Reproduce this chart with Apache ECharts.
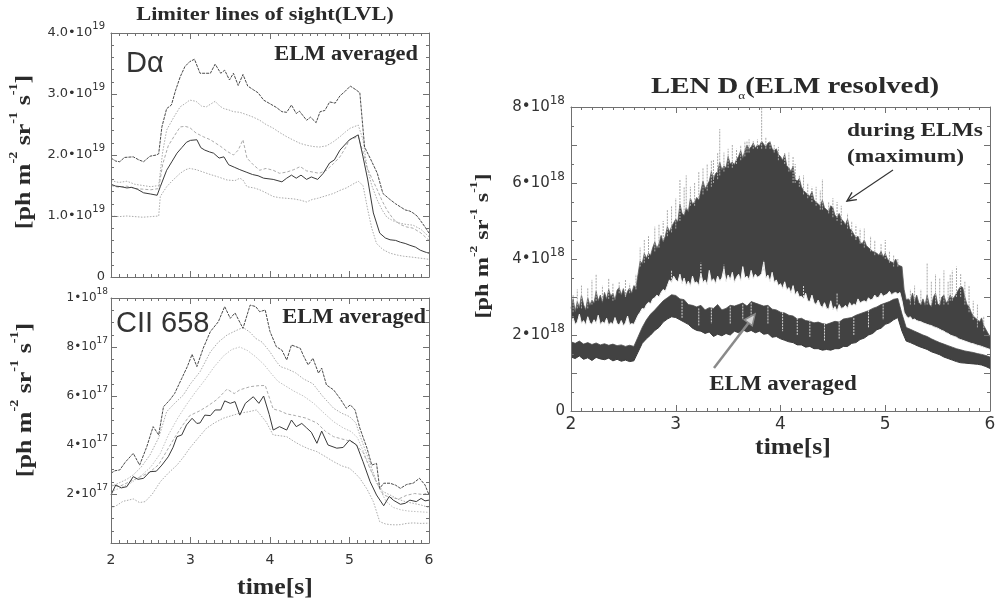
<!DOCTYPE html>
<html>
<head>
<meta charset="utf-8">
<script src="https://cdn.jsdelivr.net/npm/echarts@6/dist/echarts.min.js"></script>
<style>
  html, body { margin: 0; padding: 0; background: #ffffff; }
  #chart { width: 1000px; height: 604px; }
</style>
</head>
<body>
<div id="chart"></div>
<script>
// ---------------------------------------------------------------
// Limiter lines of sight (LVL), ELM averaged — D-alpha, units of 1e19 ph m^-2 sr^-1 s^-1
// Each line is a list of [time (s), value].
// ---------------------------------------------------------------
const daTop = [[2.00,1.95],[2.06,1.90],[2.11,1.89],[2.17,1.96],[2.28,1.97],[2.35,1.92],[2.41,1.89],[2.49,1.98],[2.57,2.00],[2.60,2.02],[2.64,2.46],[2.70,2.76],[2.76,2.82],[2.81,3.05],[2.87,3.28],[2.93,3.45],[2.99,3.53],[3.05,3.57],[3.12,3.34],[3.25,3.34],[3.31,3.49],[3.38,3.34],[3.43,3.39],[3.49,3.23],[3.54,3.34],[3.60,3.14],[3.66,3.32],[3.72,3.13],[3.79,3.07],[3.85,3.02],[3.92,2.90],[4.00,2.84],[4.08,2.78],[4.15,2.71],[4.21,2.70],[4.27,2.82],[4.33,2.68],[4.37,2.72],[4.46,2.57],[4.51,2.62],[4.58,2.53],[4.63,2.71],[4.69,2.73],[4.75,2.87],[4.82,2.85],[4.88,2.97],[4.95,3.05],[5.01,3.13],[5.08,3.07],[5.13,3.02],[5.19,2.13],[5.27,1.92],[5.35,1.70],[5.42,1.37],[5.50,1.28],[5.58,1.20],[5.64,1.15],[5.70,1.10],[5.76,1.08],[5.80,1.05],[5.85,1.00],[5.89,0.93],[5.95,0.82],[6.00,0.72]];
const daUpperDotted = [[2.00,1.58],[2.10,1.55],[2.20,1.57],[2.30,1.52],[2.40,1.50],[2.50,1.48],[2.60,1.50],[2.65,2.05],[2.70,2.41],[2.79,2.62],[2.87,2.79],[2.94,2.85],[2.99,2.90],[3.07,2.88],[3.14,2.80],[3.20,2.79],[3.26,2.84],[3.31,2.88],[3.37,2.80],[3.42,2.76],[3.48,2.74],[3.54,2.71],[3.62,2.70],[3.71,2.66],[3.79,2.62],[3.87,2.57],[3.95,2.50],[4.04,2.44],[4.12,2.37],[4.21,2.30],[4.30,2.24],[4.38,2.19],[4.46,2.16],[4.54,2.14],[4.62,2.13],[4.71,2.15],[4.80,2.22],[4.88,2.30],[4.95,2.38],[5.01,2.44],[5.11,2.49],[5.17,2.25],[5.22,1.80],[5.28,1.50],[5.35,1.26],[5.41,1.10],[5.47,0.98],[5.55,0.92],[5.64,0.88],[5.72,0.86],[5.80,0.85],[5.90,0.78],[6.00,0.66]];
const daMiddleDashed = [[2.00,1.50],[2.10,1.47],[2.20,1.49],[2.30,1.45],[2.40,1.44],[2.50,1.43],[2.60,1.45],[2.65,1.85],[2.72,2.15],[2.80,2.32],[2.87,2.46],[2.93,2.47],[2.99,2.45],[3.07,2.36],[3.16,2.30],[3.25,2.25],[3.31,2.20],[3.38,2.14],[3.46,2.06],[3.54,2.00],[3.60,2.08],[3.66,2.25],[3.71,1.95],[3.79,1.84],[3.87,1.75],[3.95,1.78],[4.04,1.75],[4.12,1.70],[4.21,1.72],[4.30,1.76],[4.38,1.81],[4.46,1.74],[4.54,1.72],[4.62,1.70],[4.71,1.75],[4.80,1.86],[4.88,1.97],[4.95,2.12],[5.00,2.25],[5.11,2.30],[5.17,2.05],[5.22,1.80],[5.28,1.62],[5.35,1.43],[5.41,1.25],[5.47,1.10],[5.55,0.95],[5.64,0.86],[5.72,0.82],[5.80,0.80],[5.90,0.72],[6.00,0.60]];
const daSolid = [[2.00,1.52],[2.06,1.49],[2.13,1.48],[2.20,1.46],[2.26,1.47],[2.33,1.44],[2.41,1.38],[2.50,1.36],[2.58,1.34],[2.62,1.48],[2.70,1.75],[2.77,1.90],[2.83,2.03],[2.89,2.12],[2.95,2.21],[3.00,2.24],[3.08,2.25],[3.13,2.12],[3.18,2.08],[3.24,2.05],[3.29,2.03],[3.36,1.95],[3.42,1.97],[3.48,1.84],[3.55,1.80],[3.62,1.76],[3.70,1.72],[3.78,1.68],[3.85,1.66],[3.92,1.62],[4.04,1.60],[4.15,1.56],[4.21,1.62],[4.27,1.67],[4.33,1.62],[4.39,1.67],[4.46,1.60],[4.52,1.64],[4.60,1.60],[4.67,1.70],[4.75,1.87],[4.81,1.92],[4.88,2.08],[4.95,2.18],[5.00,2.25],[5.11,2.33],[5.17,1.97],[5.23,1.59],[5.30,1.05],[5.38,0.72],[5.45,0.64],[5.51,0.61],[5.58,0.60],[5.64,0.57],[5.70,0.55],[5.76,0.52],[5.83,0.49],[5.89,0.44],[5.95,0.41],[6.00,0.39]];
const daLowDotted = [[2.00,1.00],[2.10,0.99],[2.20,1.00],[2.30,0.99],[2.40,0.98],[2.50,0.99],[2.60,1.00],[2.62,1.32],[2.70,1.48],[2.78,1.59],[2.87,1.70],[2.94,1.76],[2.99,1.78],[3.07,1.76],[3.16,1.72],[3.25,1.68],[3.35,1.64],[3.46,1.59],[3.56,1.58],[3.62,1.62],[3.66,1.59],[3.71,1.48],[3.80,1.46],[3.87,1.43],[3.95,1.38],[4.04,1.32],[4.12,1.30],[4.21,1.29],[4.30,1.28],[4.38,1.26],[4.46,1.23],[4.53,1.27],[4.60,1.29],[4.70,1.33],[4.80,1.37],[4.88,1.42],[4.96,1.46],[5.04,1.52],[5.11,1.57],[5.17,1.50],[5.23,1.10],[5.28,0.80],[5.34,0.55],[5.42,0.45],[5.51,0.39],[5.60,0.36],[5.68,0.34],[5.76,0.33],[5.88,0.31],[6.00,0.29]];

// ---------------------------------------------------------------
// CII 658, ELM averaged — units of 1e17 ph m^-2 sr^-1 s^-1
// ---------------------------------------------------------------
const ciiTop = [[2.00,2.85],[2.05,2.95],[2.11,2.98],[2.18,3.30],[2.28,3.66],[2.36,3.18],[2.45,3.93],[2.53,4.75],[2.60,4.41],[2.66,5.56],[2.74,5.84],[2.80,6.10],[2.89,6.72],[2.96,7.20],[3.02,7.70],[3.08,7.20],[3.16,7.95],[3.25,8.63],[3.35,9.03],[3.43,9.65],[3.50,9.17],[3.56,9.39],[3.66,8.76],[3.75,9.71],[3.82,9.65],[3.87,9.44],[3.94,9.51],[4.00,8.63],[4.08,8.01],[4.15,7.87],[4.21,7.47],[4.27,8.08],[4.38,7.95],[4.42,7.65],[4.48,7.27],[4.54,7.54],[4.61,6.93],[4.65,7.14],[4.71,6.45],[4.80,6.25],[4.88,5.90],[4.96,5.50],[5.01,5.64],[5.07,5.43],[5.13,4.69],[5.22,3.87],[5.28,3.18],[5.34,3.25],[5.38,2.23],[5.43,2.44],[5.51,2.44],[5.58,2.36],[5.64,2.23],[5.72,2.39],[5.80,2.44],[5.88,2.64],[5.95,2.37],[6.00,1.96]];
const ciiUpperDotted = [[2.00,2.30],[2.10,2.45],[2.20,2.60],[2.28,2.78],[2.38,3.10],[2.49,3.59],[2.60,4.30],[2.70,5.36],[2.80,5.70],[2.91,6.04],[3.00,6.50],[3.12,6.99],[3.25,7.80],[3.35,8.20],[3.46,8.49],[3.56,8.65],[3.66,8.80],[3.75,8.60],[3.82,8.35],[3.90,8.20],[4.00,7.80],[4.07,7.45],[4.13,7.20],[4.22,7.10],[4.32,6.95],[4.42,6.70],[4.54,6.50],[4.66,6.00],[4.80,5.50],[4.90,5.30],[5.00,5.16],[5.08,4.90],[5.13,4.40],[5.22,3.60],[5.34,2.50],[5.42,2.10],[5.51,1.96],[5.60,1.80],[5.70,1.69],[5.80,1.62],[5.90,1.55],[6.00,1.45]];
const ciiSecondDotted = [[2.00,2.10],[2.12,2.25],[2.25,2.45],[2.38,2.75],[2.50,3.10],[2.62,3.65],[2.72,4.40],[2.84,5.10],[2.95,5.65],[3.06,6.15],[3.18,6.65],[3.30,7.20],[3.42,7.65],[3.52,7.90],[3.62,8.00],[3.72,7.85],[3.82,7.60],[3.92,7.30],[4.02,6.90],[4.10,6.60],[4.20,6.40],[4.30,6.20],[4.42,6.00],[4.55,5.70],[4.68,5.30],[4.80,4.95],[4.92,4.70],[5.02,4.55],[5.10,4.30],[5.18,3.70],[5.28,2.90],[5.38,2.20],[5.46,1.70],[5.55,1.45],[5.65,1.35],[5.75,1.30],[5.85,1.28],[6.00,1.25]];
const ciiMiddleDashed = [[2.00,2.37],[2.10,2.30],[2.20,2.45],[2.30,2.60],[2.40,2.75],[2.49,2.90],[2.60,3.20],[2.70,3.75],[2.80,4.30],[2.90,4.80],[2.99,5.20],[3.12,5.40],[3.22,5.60],[3.33,5.85],[3.46,6.28],[3.55,6.10],[3.62,6.25],[3.75,6.38],[3.85,6.42],[3.94,6.43],[4.04,5.47],[4.12,5.40],[4.21,5.27],[4.32,5.20],[4.45,5.10],[4.59,4.90],[4.70,4.55],[4.80,4.34],[4.90,4.25],[4.96,4.20],[5.05,4.10],[5.17,3.70],[5.27,2.95],[5.35,2.40],[5.43,1.96],[5.52,1.85],[5.62,1.80],[5.72,1.95],[5.82,2.02],[5.92,1.98],[6.00,2.05]];
const ciiSolid = [[2.00,1.96],[2.06,2.37],[2.13,2.25],[2.20,2.30],[2.28,2.71],[2.34,2.60],[2.41,2.64],[2.49,2.91],[2.57,2.93],[2.64,3.18],[2.72,3.52],[2.78,3.90],[2.83,4.34],[2.89,4.41],[2.95,4.82],[3.02,5.09],[3.08,4.88],[3.12,4.90],[3.18,5.22],[3.25,5.20],[3.31,5.43],[3.38,5.43],[3.43,5.80],[3.50,5.70],[3.56,5.77],[3.62,5.22],[3.69,5.70],[3.79,5.97],[3.86,5.70],[3.92,6.00],[3.99,5.25],[4.04,4.61],[4.12,4.75],[4.21,4.61],[4.27,5.02],[4.33,4.75],[4.40,4.88],[4.46,4.70],[4.52,4.52],[4.59,4.07],[4.65,4.57],[4.73,4.00],[4.84,3.87],[4.92,3.90],[5.00,4.20],[5.09,4.00],[5.17,3.32],[5.26,2.50],[5.34,1.96],[5.43,1.52],[5.50,1.90],[5.55,1.75],[5.64,1.58],[5.70,1.62],[5.76,1.75],[5.84,1.69],[5.90,1.82],[5.95,1.72],[6.00,1.75]];
const ciiLowDotted = [[2.00,1.41],[2.08,1.55],[2.15,1.70],[2.22,1.75],[2.28,1.80],[2.36,1.65],[2.43,1.69],[2.52,2.00],[2.62,2.50],[2.72,2.85],[2.83,3.18],[2.91,3.50],[2.99,3.87],[3.10,4.30],[3.20,4.68],[3.30,4.90],[3.41,5.09],[3.52,5.20],[3.62,5.30],[3.72,5.35],[3.83,5.43],[3.95,4.95],[4.04,4.41],[4.12,4.38],[4.21,4.34],[4.30,4.15],[4.38,4.00],[4.48,3.85],[4.59,3.73],[4.70,3.52],[4.80,3.32],[4.90,3.15],[5.00,3.05],[5.07,2.85],[5.13,2.64],[5.22,2.20],[5.30,1.69],[5.38,0.87],[5.45,0.78],[5.51,0.75],[5.58,0.74],[5.64,0.75],[5.72,0.80],[5.80,0.82],[5.90,0.80],[6.00,0.81]];

// ---------------------------------------------------------------
// LEN D-alpha, ELM resolved — units of 1e18 ph m^-2 sr^-1 s^-1
// Fine traces sampled every 20 ms from 2.00 s, coarse traces every 40 ms.
// ---------------------------------------------------------------
const LEN_T0 = 2.0, LEN_DT_FINE = 0.02, LEN_DT_COARSE = 0.04;

// maximum during ELMs (upper edge of the dark band)
const lenMax = [
  2.70, 2.95, 2.62, 2.88, 2.72, 3.05, 2.80, 2.66, 2.98, 2.78,
  2.92, 2.84, 3.15, 2.90, 3.05, 2.86, 3.12, 2.95, 3.20, 3.02,
  3.10, 2.92, 3.18, 3.25, 3.05, 3.22, 3.00, 3.15, 3.24, 3.10,
  3.30, 3.25, 3.60, 3.95, 3.88, 4.15, 4.02, 4.15, 4.10, 4.30,
  4.45, 4.28, 4.40, 4.62, 4.45, 4.60, 4.85, 4.72, 4.85, 4.95,
  5.05, 4.98, 5.45, 5.20, 5.15, 5.35, 5.25, 5.60, 5.45, 5.50,
  5.62, 5.55, 5.80, 6.05, 5.85, 5.95, 6.05, 6.30, 6.10, 6.25,
  6.30, 6.55, 6.35, 6.45, 6.40, 6.70, 6.50, 6.55, 6.48, 6.62,
  6.70, 6.85, 6.65, 6.85, 7.00, 6.90, 6.95, 7.05, 6.92, 7.00,
  6.98, 7.10, 7.02, 6.95, 7.05, 7.08, 6.90, 6.85, 6.90, 6.75,
  6.70, 6.60, 6.75, 6.45, 6.40, 6.30, 6.45, 6.10, 6.05, 6.12,
  5.90, 5.80, 5.75, 5.70, 5.65, 5.78, 5.55, 5.50, 5.45, 5.40,
  5.55, 5.35, 5.30, 5.25, 5.40, 5.35, 5.15, 5.10, 5.20, 5.05,
  5.00, 4.90, 5.05, 4.80, 4.75, 4.65, 4.55, 4.60, 4.45, 4.40,
  4.50, 4.35, 4.30, 4.25, 4.20, 4.18, 4.15, 4.10, 4.20, 4.05,
  4.15, 4.00, 3.95, 3.92, 3.90, 4.00, 3.85, 3.82, 3.80, 3.20,
  2.93, 2.95, 2.90, 3.10, 2.88, 3.05, 2.85, 2.80, 2.95, 2.78,
  3.05, 2.80, 2.75, 3.00, 3.10, 2.82, 2.78, 3.00, 3.05, 2.85,
  2.90, 3.05, 2.95, 3.00, 3.10, 3.20, 3.28, 3.25, 3.00, 2.80,
  2.75, 2.60, 2.50, 2.45, 2.40, 2.35, 2.45, 2.25, 2.15, 2.05,
  1.96
];

// ELM averaged trace, upper edge
const lenAvgHigh = [
  2.30, 2.45, 2.28, 2.34, 2.55, 2.30, 2.38, 2.26, 2.48, 2.32,
  2.28, 2.40, 2.30, 2.52, 2.27, 2.35, 2.30, 2.44, 2.25, 2.33,
  2.28, 2.46, 2.30, 2.26, 2.38, 2.24, 2.32, 2.50, 2.27, 2.30,
  2.28, 2.40, 2.52, 2.60, 2.70, 2.68, 2.80, 2.86, 2.82, 2.95,
  2.98, 3.05, 3.00, 3.12, 3.20, 3.15, 3.30, 3.45, 3.38, 3.55,
  3.45, 3.40, 3.60, 3.35, 3.50, 3.30, 3.42, 3.28, 3.55, 3.36,
  3.40, 3.30, 3.62, 3.38, 3.45, 3.32, 3.70, 3.40, 3.48, 3.35,
  3.55, 3.42, 3.50, 3.75, 3.40, 3.58, 3.45, 3.65, 3.38, 3.52,
  3.60, 3.42, 3.80, 3.50, 3.55, 3.45, 3.70, 3.48, 3.60, 3.52,
  3.55, 3.62, 3.92, 3.50, 3.58, 3.40, 3.65, 3.38, 3.45, 3.30,
  3.35, 3.22, 3.40, 3.18, 3.25, 3.10, 3.30, 3.05, 3.15, 3.00,
  3.02, 2.95, 3.10, 2.90, 2.88, 3.05, 2.85, 2.80, 2.92, 2.78,
  2.72, 2.85, 2.70, 2.68, 2.90, 2.66, 2.75, 2.62, 2.80, 2.70,
  2.72, 2.78, 2.70, 2.85, 2.76, 2.82, 2.78, 2.95, 2.84, 2.88,
  2.90, 2.86, 2.98, 2.92, 2.95, 3.05, 2.98, 3.00, 3.10, 3.02,
  3.05, 3.08, 3.15, 3.06, 3.10, 3.12, 3.08, 3.12, 2.90, 2.60,
  2.50, 2.45, 2.48, 2.40, 2.42, 2.38, 2.36, 2.35, 2.32, 2.30,
  2.28, 2.26, 2.25, 2.22, 2.20, 2.18, 2.15, 2.12, 2.10, 2.06,
  2.04, 2.00, 1.98, 1.96, 1.94, 1.90, 1.88, 1.86, 1.84, 1.82,
  1.80, 1.78, 1.77, 1.75, 1.73, 1.72, 1.70, 1.68, 1.66, 1.64,
  1.62
];

// ELM averaged trace, lower edge (top of the lower dark band)
const lenAvgLow = [
  1.82, 1.78, 1.84, 1.76, 1.80, 1.75, 1.79, 1.74, 1.77, 1.73,
  1.76, 1.72, 1.74, 1.70, 1.73, 1.70, 1.95, 2.20, 2.40, 2.55,
  2.66, 2.78, 2.90, 2.98, 3.06, 3.04, 2.95, 2.93, 2.80, 2.78,
  2.74, 2.78, 2.66, 2.72, 2.70, 2.80, 2.66, 2.70, 2.78, 2.76,
  2.80, 2.84, 2.76, 2.88, 2.84, 2.80, 2.76, 2.78, 2.68, 2.66,
  2.60, 2.58, 2.52, 2.50, 2.42, 2.44, 2.38, 2.36, 2.32, 2.34,
  2.30, 2.28, 2.32, 2.36, 2.34, 2.42, 2.44, 2.46, 2.52, 2.56,
  2.60, 2.64, 2.70, 2.74, 2.80, 2.84, 2.88, 2.94, 2.96, 2.55,
  2.20, 2.15, 2.10, 2.05, 2.00, 1.96, 1.90, 1.85, 1.80, 1.76,
  1.72, 1.68, 1.64, 1.61, 1.58, 1.56, 1.54, 1.51, 1.49, 1.46,
  1.42
];

// lowest envelope of the ELM resolved signal
const lenMin = [
  1.42, 1.38, 1.45, 1.36, 1.40, 1.33, 1.41, 1.37, 1.35, 1.39,
  1.32, 1.36, 1.31, 1.34, 1.30, 1.32, 1.55, 1.78, 1.90, 2.00,
  2.12, 2.20, 2.34, 2.42, 2.48, 2.46, 2.40, 2.34, 2.28, 2.18,
  2.12, 2.10, 2.04, 2.08, 1.96, 2.02, 1.98, 2.04, 2.00, 2.10,
  2.06, 2.14, 2.08, 2.12, 2.06, 2.10, 2.02, 2.04, 1.94, 1.96,
  1.90, 1.86, 1.82, 1.80, 1.74, 1.74, 1.68, 1.70, 1.64, 1.64,
  1.60, 1.62, 1.60, 1.64, 1.64, 1.70, 1.70, 1.78, 1.80, 1.88,
  1.92, 2.00, 2.04, 2.14, 2.18, 2.28, 2.32, 2.40, 2.46, 2.10,
  1.84, 1.80, 1.75, 1.70, 1.66, 1.62, 1.56, 1.52, 1.48, 1.42,
  1.38, 1.34, 1.30, 1.27, 1.26, 1.25, 1.24, 1.23, 1.21, 1.17,
  1.12
];

// individual ELM peaks: [time, foot of the streak, peak]
const lenSpikes = [
  [2.02,2.60,3.05],[2.06,2.70,3.20],[2.10,2.70,3.30],[2.16,2.70,3.25],[2.20,2.80,3.45],
  [2.24,2.90,3.60],[2.30,2.90,3.30],[2.36,2.95,3.50],[2.40,2.90,3.35],[2.46,3.10,3.40],
  [2.52,3.00,3.45],[2.56,3.10,3.35],[2.62,3.20,3.60],[2.66,3.80,4.30],[2.70,3.90,4.50],
  [2.74,4.00,4.60],[2.80,4.20,4.85],[2.84,4.30,4.90],[2.88,4.50,5.00],[2.92,4.60,5.30],
  [2.96,4.70,5.40],[3.00,4.80,5.60],[3.04,5.00,6.10],[3.08,5.20,5.90],[3.10,5.30,6.20],
  [3.14,5.40,5.90],[3.18,5.40,6.00],[3.22,5.60,6.30],[3.26,5.70,6.40],[3.30,5.80,6.50],
  [3.34,5.90,6.60],[3.36,6.00,6.60],[3.40,6.10,6.80],[3.42,6.20,7.42],[3.46,6.30,6.80],
  [3.50,6.40,6.90],[3.54,6.40,7.00],[3.58,6.50,6.90],[3.62,6.60,7.00],[3.66,6.70,7.10],
  [3.68,6.80,7.10],[3.70,6.80,7.15],[3.74,6.90,7.10],[3.78,6.90,7.15],[3.82,6.90,8.00],
  [3.86,6.90,7.20],[3.90,6.90,7.10],[3.94,6.80,7.00],[3.98,6.60,6.95],[4.04,6.50,6.80],
  [4.08,6.30,6.80],[4.12,6.00,6.70],[4.14,6.00,6.50],[4.18,5.90,6.20],[4.22,5.70,6.20],
  [4.26,5.60,6.00],[4.30,5.50,5.90],[4.34,5.40,5.90],[4.38,5.30,5.80],[4.40,5.30,6.10],
  [4.46,5.20,5.50],[4.50,5.10,5.60],[4.54,5.00,5.50],[4.58,4.90,5.40],[4.64,4.80,5.20],
  [4.68,4.60,5.00],[4.72,4.50,4.90],[4.76,4.40,4.80],[4.80,4.30,4.80],[4.86,4.20,4.60],
  [4.90,4.10,4.50],[4.96,4.10,4.40],[5.00,4.00,4.50],[5.04,3.90,4.20],[5.08,3.80,4.10],
  [5.12,3.80,4.00],[5.24,2.80,3.20],[5.28,2.80,3.30],[5.34,2.80,3.20],[5.40,2.80,3.90],
  [5.44,2.80,3.40],[5.48,2.80,3.60],[5.52,2.80,3.50],[5.56,2.80,3.70],[5.60,2.80,3.40],
  [5.62,2.90,3.60],[5.64,2.90,3.70],[5.68,3.00,3.80],[5.72,3.00,3.60],[5.76,2.80,3.40],
  [5.80,2.60,3.30],[5.84,2.40,2.90],[5.88,2.20,2.80],[5.94,2.10,2.50]
];

// excursions of the ELM averaged trace: [time, from, to]
const lenAvgExcursions = [
  [2.96,3.40,3.70],[3.06,2.90,2.45],[3.22,2.70,2.25],[3.24,3.50,3.90],[3.34,2.70,2.30],
  [3.46,3.60,3.85],[3.52,2.75,2.30],[3.64,2.80,2.40],[3.72,2.85,2.35],[3.84,3.70,3.95],
  [3.88,2.75,2.30],[4.02,2.60,2.10],[4.16,2.45,2.00],[4.22,3.00,3.30],[4.28,2.40,1.95],
  [4.42,2.30,1.85],[4.54,2.80,3.10],[4.56,2.35,1.90],[4.70,2.45,2.00],[4.84,2.65,2.20],
  [4.98,2.80,2.40]
];

// tick values
const timeTicks = [2, 3, 4, 5, 6];
const daTicks = [0, 1, 2, 3, 4];          // x 1e19
const ciiTicks = [0, 2, 4, 6, 8, 10];     // x 1e17
const lenTicks = [0, 2, 4, 6, 8];         // x 1e18

// ---------------------------------------------------------------
const SANS = '"DejaVu Sans", "Liberation Sans", sans-serif';
const ARIAL = '"Liberation Sans", Arial, sans-serif';
const SERIF = '"Liberation Serif", "Times New Roman", serif';
const FRAME = '#707070';
const INK = '#2a2a2a';

const sampled = (values, t0, dt) => values.map((v, i) => [+(t0 + i * dt).toFixed(2), v]);

function frameX(gridIndex, opts) {
  const base = {
    type: 'value', gridIndex, min: timeTicks[0], max: timeTicks[timeTicks.length - 1], interval: 1, z: 10,
    axisLine: { show: true, onZero: false, lineStyle: { color: FRAME, width: 1 } },
    axisTick: { show: true, inside: true, length: 6, lineStyle: { color: FRAME } },
    minorTick: { show: true, splitNumber: 10, length: 3, lineStyle: { color: FRAME } },
    splitLine: { show: false }
  };
  const bottom = Object.assign({}, base, { position: 'bottom',
    axisLabel: opts.labels ? { show: true, margin: opts.margin, color: '#333', fontFamily: SANS, fontSize: opts.fontSize } : { show: false } });
  const top = Object.assign({}, base, { position: 'top', axisLabel: { show: false } });
  return [bottom, top];
}

function frameY(gridIndex, opts) {
  const base = {
    type: 'value', gridIndex, min: opts.min, max: opts.max, interval: opts.interval, z: 10,
    axisLine: { show: true, onZero: false, lineStyle: { color: FRAME, width: 1 } },
    axisTick: { show: true, inside: true, length: 6, lineStyle: { color: FRAME } },
    minorTick: { show: true, splitNumber: opts.minor, length: 3, lineStyle: { color: FRAME } },
    splitLine: { show: false }
  };
  const left = Object.assign({}, base, { position: 'left',
    axisLabel: {
      show: true, margin: opts.margin, formatter: opts.formatter, color: '#333',
      rich: {
        m: { fontFamily: SANS, fontSize: opts.fontSize, lineHeight: opts.fontSize + 10, color: '#333' },
        s: { fontFamily: SANS, fontSize: opts.supSize, lineHeight: opts.supSize + 1, verticalAlign: 'top', color: '#333' }
      }
    } });
  const right = Object.assign({}, base, { position: 'right', axisLabel: { show: false } });
  return [left, right];
}

const [x0b, x0t] = frameX(0, { labels: false });
const [x1b, x1t] = frameX(1, { labels: true, fontSize: 14, margin: 10 });
const [x2b, x2t] = frameX(2, { labels: true, fontSize: 17, margin: 5 });

const [y0l, y0r] = frameY(0, {
  min: daTicks[0], max: daTicks[daTicks.length - 1], interval: 1, minor: 5, margin: 6, fontSize: 13, supSize: 10,
  formatter: v => v === 0 ? '{m|0}' : `{m|${v.toFixed(1)}•10}{s|19}`
});
const [y1l, y1r] = frameY(1, {
  min: ciiTicks[0], max: ciiTicks[ciiTicks.length - 1], interval: 2, minor: 4, margin: 3, fontSize: 12, supSize: 9,
  formatter: v => v === 0 ? '' : (v === 10 ? '{m|1•10}{s|18}' : `{m|${v}•10}{s|17}`)
});
const [y2l, y2r] = frameY(2, {
  min: lenTicks[0], max: lenTicks[lenTicks.length - 1], interval: 1, minor: 2, margin: 6, fontSize: 15, supSize: 12,
  formatter: v => lenTicks.includes(v) ? (v === 0 ? '{m|0}' : `{m|${v}•10}{s|18}`) : ''
});

function line(data, xi, yi, color, type, width, z) {
  return {
    type: 'line', data, xAxisIndex: xi, yAxisIndex: yi, symbol: 'none', silent: true,
    animation: false, z: z || 3, lineStyle: { color, type, width }
  };
}

function streaks(data, color, z) {
  return {
    type: 'custom', data, xAxisIndex: 4, yAxisIndex: 4, silent: true, animation: false, z,
    encode: { x: 0, y: [1, 2] },
    renderItem: (params, api) => {
      const a = api.coord([api.value(0), api.value(1)]);
      const b = api.coord([api.value(0), api.value(2)]);
      return { type: 'line', shape: { x1: a[0], y1: a[1], x2: b[0], y2: b[1] },
               style: { stroke: color, lineWidth: 1, lineDash: [2, 1] } };
    }
  };
}

const LIGHT = '#ababab';
const series = [
  // D-alpha
  line(daLowDotted, 0, 0, LIGHT, [1.5, 1.5], 1),
  line(daMiddleDashed, 0, 0, LIGHT, [3, 2], 1),
  line(daUpperDotted, 0, 0, LIGHT, [1.5, 1.5], 1),
  line(daSolid, 0, 0, '#3a3a3a', 'solid', 1, 4),
  line(daTop, 0, 0, '#4a4a4a', [3, 1], 1, 4),
  // CII 658
  line(ciiLowDotted, 2, 2, LIGHT, [1.5, 1.5], 1),
  line(ciiMiddleDashed, 2, 2, LIGHT, [3, 2], 1),
  line(ciiSecondDotted, 2, 2, '#c2c2c2', [1.5, 1.5], 1),
  line(ciiUpperDotted, 2, 2, LIGHT, [1.5, 1.5], 1),
  line(ciiSolid, 2, 2, '#3a3a3a', 'solid', 1, 4),
  line(ciiTop, 2, 2, '#4a4a4a', [3, 1], 1, 4),
  // LEN D-alpha, ELM resolved: bands painted from the top down
  {
    type: 'line', data: sampled(lenMax, LEN_T0, LEN_DT_FINE), xAxisIndex: 4, yAxisIndex: 4,
    symbol: 'none', silent: true, animation: false, z: 2,
    lineStyle: { color: '#5c5c5c', width: 0.8 },
    areaStyle: { color: '#424242', opacity: 1, origin: 'start' }
  },
  streaks(lenSpikes, '#a8a8a8', 3),
  {
    type: 'line', data: sampled(lenAvgHigh, LEN_T0, LEN_DT_FINE), xAxisIndex: 4, yAxisIndex: 4,
    symbol: 'none', silent: true, animation: false, z: 4,
    lineStyle: { color: '#f2f2f2', width: 1 },
    areaStyle: { color: '#ffffff', opacity: 1, origin: 'start' }
  },
  {
    type: 'line', data: sampled(lenAvgLow, LEN_T0, LEN_DT_COARSE), xAxisIndex: 4, yAxisIndex: 4,
    symbol: 'none', silent: true, animation: false, z: 5,
    lineStyle: { color: '#4a4a4a', width: 0.8 },
    areaStyle: { color: '#424242', opacity: 1, origin: 'start' }
  },
  {
    type: 'line', data: sampled(lenMin, LEN_T0, LEN_DT_COARSE), xAxisIndex: 4, yAxisIndex: 4,
    symbol: 'none', silent: true, animation: false, z: 6,
    lineStyle: { color: '#3a3a3a', width: 1 },
    areaStyle: { color: '#ffffff', opacity: 1, origin: 'start' }
  },
  streaks(lenAvgExcursions, '#d6d6d6', 7)
];

// ---------------------------------------------------------------
// annotations
// ---------------------------------------------------------------
function arrowHead(x1, y1, x2, y2, len, half) {
  const a = Math.atan2(y1 - y2, x1 - x2);
  return [
    [x2 + len * Math.cos(a + half), y2 + len * Math.sin(a + half)],
    [x2, y2],
    [x2 + len * Math.cos(a - half), y2 + len * Math.sin(a - half)]
  ];
}

function serifText(text, x, y, size, align, scaleX) {
  return {
    type: 'text', x, y, scaleX: scaleX || 1, z: 100, silent: true,
    style: { text, fill: INK, font: `bold ${size}px ${SERIF}`, align, verticalAlign: 'middle' }
  };
}

function unitName(x, y, size, scale) {
  return {
    type: 'text', x, y, rotation: Math.PI / 2, scaleX: scale, z: 100, silent: true,
    style: {
      text: '{m|[ph m}{s|-2}{m| sr}{s|-1}{m| s}{s|-1}{m|]}',
      align: 'center', verticalAlign: 'middle',
      rich: {
        m: { fontFamily: SERIF, fontWeight: 'bold', fontSize: size, lineHeight: size + 10, fill: INK },
        s: { fontFamily: SERIF, fontWeight: 'bold', fontSize: Math.round(size * 0.55), lineHeight: Math.round(size * 0.55) + 1, verticalAlign: 'top', fill: INK }
      }
    }
  };
}

const h1 = arrowHead(893, 170, 847, 201, 10, 0.45);
const h2 = arrowHead(714, 368, 755, 314, 12, 0.42);

const graphic = [
  serifText('Limiter lines of sight(LVL)', 265, 15, 19, 'center', 1.18),
  serifText('ELM averaged', 418, 55, 20, 'right', 1.12),
  serifText('ELM averaged', 426, 318, 20, 'right', 1.12),
  { type: 'text', x: 126, y: 64, z: 100, silent: true,
    style: { text: 'Dα', fill: '#333', font: `29px ${ARIAL}`, align: 'left', verticalAlign: 'middle' } },
  { type: 'text', x: 116, y: 324, z: 100, silent: true,
    style: { text: 'CII 658', fill: '#333', font: `29px ${ARIAL}`, align: 'left', verticalAlign: 'middle' } },
  serifText('time[s]', 275, 588, 23, 'center', 1.12),
  serifText('time[s]', 793, 448, 23, 'center', 1.12),
  unitName(24, 152, 22, 1.18),
  unitName(25, 400, 22, 1.18),
  unitName(483, 246, 18, 1.35),
  {
    type: 'text', x: 795, y: 87, scaleX: 1.2, z: 100, silent: true,
    style: {
      text: '{m|LEN D}{sub|α}{m|(ELM resolved)}', align: 'center', verticalAlign: 'middle',
      rich: {
        m: { fontFamily: SERIF, fontWeight: 'bold', fontSize: 24, lineHeight: 30, fill: INK },
        sub: { fontFamily: SERIF, fontSize: 11, lineHeight: 12, verticalAlign: 'bottom', fill: INK }
      }
    }
  },
  serifText('during ELMs', 847, 131, 18, 'left', 1.3),
  serifText('(maximum)', 847, 157, 18, 'left', 1.3),
  serifText('ELM averaged', 783, 385, 20, 'center', 1.15),
  { type: 'line', z: 100, silent: true, shape: { x1: 893, y1: 170, x2: 847, y2: 201 },
    style: { stroke: '#333', lineWidth: 1.1 } },
  { type: 'polyline', z: 100, silent: true, shape: { points: h1 },
    style: { stroke: '#333', lineWidth: 1.4, fill: null } },
  { type: 'line', z: 100, silent: true, shape: { x1: 714, y1: 368, x2: 750, y2: 321 },
    style: { stroke: '#8a8a8a', lineWidth: 2.5 } },
  { type: 'polygon', z: 100, silent: true, shape: { points: h2 },
    style: { stroke: '#8a8a8a', lineWidth: 1.5, fill: '#d8d8d8' } }
];

const chart = echarts.init(document.getElementById('chart'), null, { renderer: 'canvas', width: 1000, height: 604 });
chart.setOption({
  backgroundColor: '#ffffff',
  animation: false,
  grid: [
    { left: 111, top: 33, width: 318, height: 244 },
    { left: 111, top: 298, width: 318, height: 245 },
    { left: 571, top: 107, width: 419, height: 304 }
  ],
  xAxis: [x0b, x0t, x1b, x1t, x2b, x2t],
  yAxis: [y0l, y0r, y1l, y1r, y2l, y2r],
  series,
  graphic
});
</script>
</body>
</html>
